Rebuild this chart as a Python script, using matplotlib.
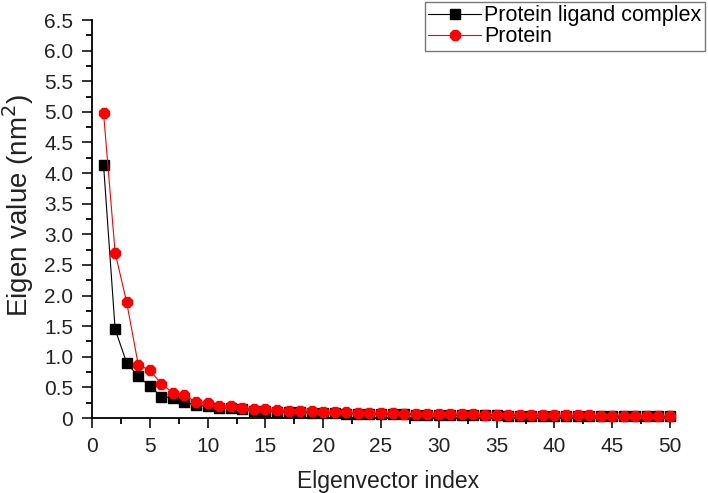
import matplotlib.pyplot as plt
from matplotlib.ticker import MultipleLocator, FuncFormatter

plt.rcParams['font.family'] = ['Liberation Sans', 'DejaVu Sans']

index = list(range(1, 51))

complex_vals = [4.13, 1.45, 0.90, 0.68, 0.52, 0.35, 0.33, 0.26, 0.21, 0.19,
                0.17, 0.16, 0.14, 0.12, 0.11, 0.10, 0.095, 0.09, 0.085, 0.08,
                0.075, 0.07, 0.068, 0.065, 0.062, 0.06, 0.058, 0.055, 0.053, 0.05,
                0.048, 0.046, 0.045, 0.043, 0.042, 0.04, 0.039, 0.038, 0.036, 0.035,
                0.034, 0.033, 0.032, 0.031, 0.03, 0.029, 0.028, 0.027, 0.026, 0.025]

protein_vals = [4.98, 2.70, 1.89, 0.87, 0.78, 0.56, 0.41, 0.37, 0.26, 0.24,
                0.20, 0.19, 0.17, 0.15, 0.14, 0.13, 0.12, 0.115, 0.11, 0.10,
                0.095, 0.09, 0.085, 0.08, 0.078, 0.075, 0.072, 0.07, 0.068, 0.065,
                0.062, 0.06, 0.058, 0.056, 0.054, 0.052, 0.05, 0.048, 0.047, 0.045,
                0.044, 0.042, 0.041, 0.04, 0.038, 0.037, 0.036, 0.035, 0.034, 0.033]

fig = plt.figure(figsize=(7.08, 4.93), dpi=100)
# axes box: x 92..670 px, y 20..418 px
ax = fig.add_axes([92 / 708, 75 / 493, 578 / 708, 398 / 493])

ax.plot(index, complex_vals, color='black', lw=0.8, marker='s', markersize=7,
        label='Protein ligand complex', clip_on=False, zorder=3)
ax.plot(index, protein_vals, color='red', lw=0.8, marker='8', markersize=8.5,
        label='Protein', clip_on=False, zorder=4)

ax.set_xlim(0, 50)
ax.set_ylim(0, 6.5)
ax.xaxis.set_major_locator(MultipleLocator(5))
ax.xaxis.set_minor_locator(MultipleLocator(2.5))
ax.yaxis.set_major_locator(MultipleLocator(0.5))
ax.yaxis.set_minor_locator(MultipleLocator(0.25))
ax.yaxis.set_major_formatter(FuncFormatter(lambda v, p: '0' if v == 0 else f'{v:.1f}'))

for s in ['top', 'right']:
    ax.spines[s].set_visible(False)
ax.spines['left'].set_linewidth(1.3)
ax.spines['bottom'].set_linewidth(1.3)
ax.tick_params(which='major', direction='out', length=7.5, width=1.3, pad=6,
               labelsize=15, colors='#222222')
ax.tick_params(which='minor', direction='out', length=4.5, width=1.3)

ax.set_xlabel('Elgenvector index', fontsize=16.5, color='#222222', labelpad=10)
ax.set_ylabel('Eigen value (nm$^2$)', fontsize=20, color='#222222', labelpad=6)
ax.xaxis.label.set_x(0.512)
ax.yaxis.label.set_y(0.534)

leg = fig.legend(loc='upper right', bbox_to_anchor=(707 / 708, 1.0), fontsize=15.5,
                 frameon=True, fancybox=False, edgecolor='#555555',
                 borderpad=0.15, labelspacing=0.0, handlelength=2.45,
                 handletextpad=0.15, borderaxespad=0.1)
leg.get_frame().set_linewidth(1.0)

fig.savefig('out.png', dpi=100)
